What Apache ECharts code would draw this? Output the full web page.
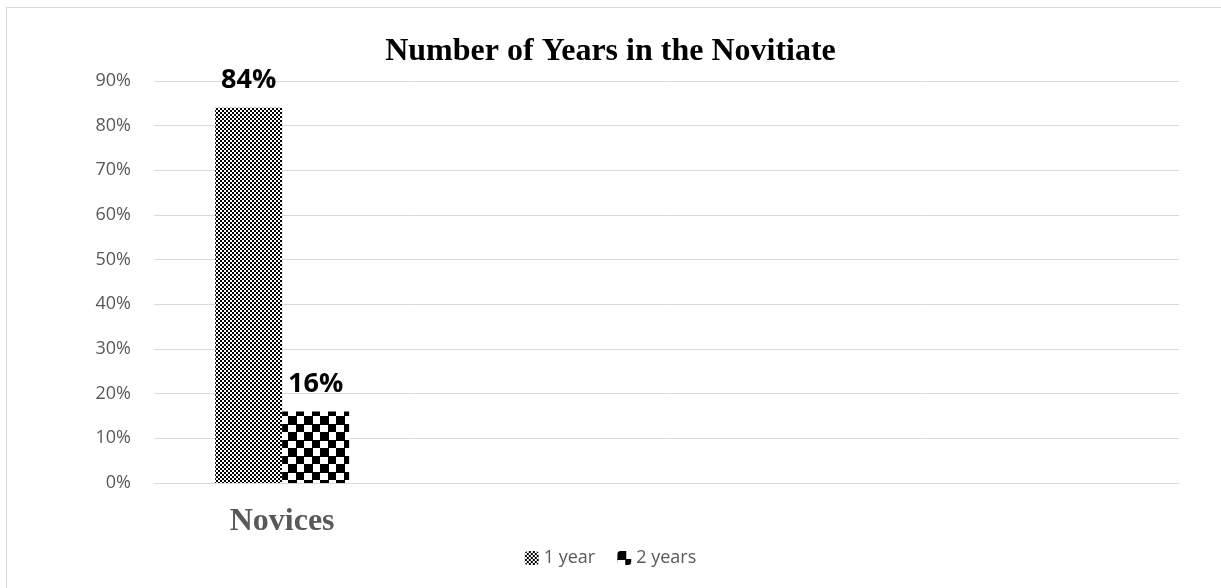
<!DOCTYPE html>
<html><head><meta charset="utf-8">
<script src="https://cdn.jsdelivr.net/npm/echarts@6/dist/echarts.min.js"></script>
<style>
html,body{margin:0;padding:0;background:#fff;}
#frame{position:absolute;left:6px;top:7px;width:1240px;height:600px;border:1px solid #d9d9d9;box-sizing:border-box;}
#c{position:absolute;left:0;top:0;width:1221px;height:588px;}
</style></head>
<body><div id="frame"></div><div id="c"></div>
<script>
const title = 'Number of Years in the Novitiate';
const categories = ['Novices', '', '', ''];
const seriesNames = ['1 year', '2 years'];
const oneYear = [84, null, null, null];
const twoYears = [16, null, null, null];
const yTicks = [0, 10, 20, 30, 40, 50, 60, 70, 80, 90];

function checker(cell, ink) {
  const n = cell * 2;
  const c = document.createElement('canvas');
  c.width = n; c.height = n;
  const g = c.getContext('2d');
  g.fillStyle = '#fff'; g.fillRect(0, 0, n, n);
  g.fillStyle = '#000';
  g.fillRect(0, 0, ink, ink);
  g.fillRect(cell, cell, ink, ink);
  return { image: c, repeat: 'repeat' };
}
const fine = checker(2, 2);
const coarse = checker(8, 9);

const chart = echarts.init(document.getElementById('c'));
const labelStyle = {
  show: true, position: 'top', distance: 14,
  formatter: p => p.value + '%',
  fontFamily: 'Open Sans, Lato, sans-serif', fontWeight: 'bold', fontSize: 27, color: '#000'
};
chart.setOption({
  animation: false,
  title: {
    text: title, left: 'center', top: 31,
    textStyle: { fontFamily: 'Liberation Serif, serif', fontWeight: 'bold', fontSize: 32, color: '#000' }
  },
  legend: {
    bottom: 16, left: 'center', itemWidth: 14, itemHeight: 14, itemGap: 22,
    textStyle: { fontFamily: 'Open Sans, sans-serif', fontSize: 18, color: '#595959' },
    data: seriesNames
  },
  grid: { left: 154, right: 42, top: 81, bottom: 105 },
  xAxis: {
    type: 'category', data: categories,
    axisLine: { lineStyle: { color: '#d9d9d9' } },
    axisTick: { show: false },
    axisLabel: { fontFamily: 'Liberation Serif, serif', fontWeight: 'bold', fontSize: 32, color: '#595959', margin: 23 }
  },
  yAxis: {
    type: 'value', min: yTicks[0], max: yTicks[yTicks.length - 1], interval: 10,
    axisLabel: { formatter: '{value}%', fontFamily: 'Open Sans, sans-serif', fontSize: 18, color: '#595959', margin: 23 },
    splitLine: { lineStyle: { color: '#d9d9d9', width: 1 } },
    axisLine: { show: false }, axisTick: { show: false }
  },
  series: [
    { name: seriesNames[0], type: 'bar', data: oneYear, barWidth: 67, barGap: '0%',
      itemStyle: { color: fine }, label: labelStyle },
    { name: seriesNames[1], type: 'bar', data: twoYears, barWidth: 67, barGap: '0%',
      itemStyle: { color: coarse }, label: labelStyle }
  ]
});
</script></body></html>
